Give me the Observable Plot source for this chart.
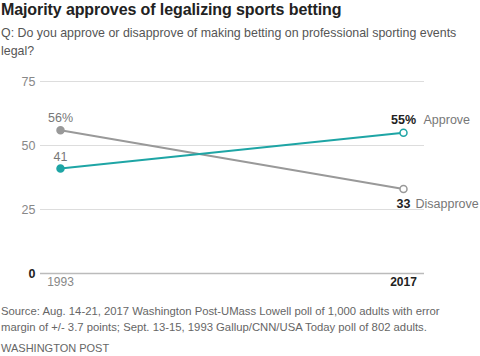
<!DOCTYPE html>
<html>
<head>
<meta charset="utf-8">
<script src="https://cdn.jsdelivr.net/npm/d3@7"></script>
<script src="https://cdn.jsdelivr.net/npm/@observablehq/plot@0.6"></script>
<style>
  body { margin: 0; width: 480px; height: 356px; overflow: hidden; background: #fff; font-family: "Liberation Sans", Arial, sans-serif; }
  #title { position: absolute; left: 1px; top: 1px; font-size: 16px; font-weight: bold; color: #222; letter-spacing: -0.1px; }
  #subtitle { position: absolute; left: 1px; top: 24px; width: 470px; font-size: 12.4px; line-height: 18px; color: #555; }
  #chart { position: absolute; left: 0; top: 64px; }
  #caption { position: absolute; left: 1px; top: 303px; white-space: nowrap; font-size: 11.3px; line-height: 16px; color: #666; }
  #credit { position: absolute; left: 1px; top: 342px; font-size: 11px; color: #666; }
</style>
</head>
<body>
<div id="title">Majority approves of legalizing sports betting</div>
<div id="subtitle">Q: Do you approve or disapprove of making betting on professional sporting events legal?</div>
<div id="chart"></div>
<div id="caption">Source: Aug. 14-21, 2017 Washington Post-UMass Lowell poll of 1,000 adults with error<br>margin of +/- 3.7 points; Sept. 13-15, 1993 Gallup/CNN/USA Today poll of 802 adults.</div>
<div id="credit">WASHINGTON POST</div>
<script>
const years = [1993, 2017];
const approve = [41, 55];
const disapprove = [56, 33];
const yTicks = [0, 25, 50, 75];
const approveStartLabel = "41";
const disapproveStartLabel = "56%";
const approveEndLabel = "55%";
const disapproveEndLabel = "33";

const teal = "#1ea5a5";
const grey = "#999999";

const approveData = years.map((y, i) => ({year: y, value: approve[i]}));
const disapproveData = years.map((y, i) => ({year: y, value: disapprove[i]}));

const chart = Plot.plot({
  width: 480,
  height: 228,
  marginLeft: 40,
  marginRight: 56,
  marginTop: 17,
  marginBottom: 19,
  style: {fontFamily: "Liberation Sans, Arial, sans-serif", fontSize: "12px"},
  x: {domain: [1993, 2017], insetLeft: 20, insetRight: 21, axis: null},
  y: {domain: [0, 75], axis: null},
  marks: [
    Plot.ruleY(yTicks.filter(d => d > 0), {stroke: "#dddddd", strokeWidth: 1}),
    Plot.ruleY([0], {stroke: "#bbbbbb", strokeWidth: 1.5}),
    Plot.text(yTicks.filter(d => d > 0), {y: d => d, frameAnchor: "left", textAnchor: "end", dx: -5, text: d => String(d), fill: "#888", fontSize: 12.5}),
    Plot.text([0], {y: d => d, frameAnchor: "left", textAnchor: "end", dx: -5, text: d => String(d), fill: "#222", fontWeight: "bold", fontSize: 12.5}),
    Plot.text([years[0]], {x: d => d, frameAnchor: "bottom", dy: 12, text: d => String(d), fill: "#888", fontSize: 12}),
    Plot.text([years[1]], {x: d => d, frameAnchor: "bottom", dy: 12, text: d => String(d), fill: "#222", fontWeight: "bold", fontSize: 12}),
    Plot.line(disapproveData, {x: "year", y: "value", stroke: grey, strokeWidth: 2}),
    Plot.line(approveData, {x: "year", y: "value", stroke: teal, strokeWidth: 2}),
    Plot.dot([disapproveData[0]], {x: "year", y: "value", r: 3.5, fill: grey, stroke: grey}),
    Plot.dot([approveData[0]], {x: "year", y: "value", r: 3.5, fill: teal, stroke: teal}),
    Plot.dot([disapproveData[1]], {x: "year", y: "value", r: 3.5, fill: "white", stroke: grey, strokeWidth: 1.5}),
    Plot.dot([approveData[1]], {x: "year", y: "value", r: 3.5, fill: "white", stroke: teal, strokeWidth: 1.5}),
    Plot.text([disapproveData[0]], {x: "year", y: "value", text: () => disapproveStartLabel, dy: -12, fill: "#777", fontSize: 12.5}),
    Plot.text([approveData[0]], {x: "year", y: "value", text: () => approveStartLabel, dy: -12, fill: "#777", fontSize: 12.5}),
    Plot.text([approveData[1]], {x: "year", y: "value", text: () => approveEndLabel, dy: -13, fill: "#222", fontWeight: "bold", fontSize: 12.5}),
    Plot.text([approveData[1]], {x: "year", y: "value", text: () => "Approve", textAnchor: "start", dx: 20, dy: -13, fill: "#777", fontSize: 12.5}),
    Plot.text([disapproveData[1]], {x: "year", y: "value", text: () => disapproveEndLabel, dy: 15, fill: "#222", fontWeight: "bold", fontSize: 12.5}),
    Plot.text([disapproveData[1]], {x: "year", y: "value", text: () => "Disapprove", textAnchor: "start", dx: 12, dy: 15, fill: "#777", fontSize: 12.5})
  ]
});
document.getElementById("chart").appendChild(chart);
</script>
</body>
</html>
